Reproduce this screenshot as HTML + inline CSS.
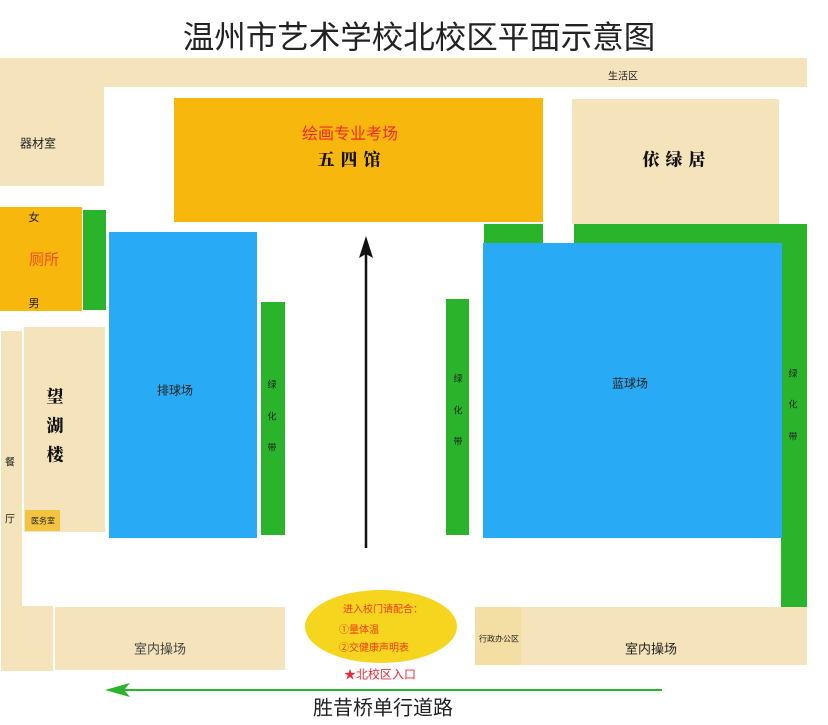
<!DOCTYPE html>
<html><head><meta charset="utf-8"><style>
body{margin:0;width:828px;height:725px;background:#fff;position:relative;overflow:hidden;font-family:"Liberation Sans","Noto Sans CJK SC",sans-serif}
div{position:absolute;box-sizing:border-box}
.b{background:#f5e4bb}.o{background:#f8b70c}.g{background:#2ab42b}.u{background:#28aaf4}
.t{position:absolute;white-space:nowrap;color:#222;transform:translate(-50%,-50%)}
.cal{font-family:"Noto Serif CJK SC",serif;font-weight:900;color:#111}
</style></head><body>
<div class="t" style="left:419px;top:35px;font-size:31.5px;color:#222">温州市艺术学校北校区平面示意图</div>
<div class="b" style="left:0;top:58px;width:807px;height:29px"></div>
<div class="b" style="left:0;top:58px;width:104px;height:128px"></div>
<div class="t" style="left:623px;top:75px;font-size:10px">生活区</div>
<div class="t" style="left:38px;top:143px;font-size:12px">器材室</div>
<div class="o" style="left:174px;top:98px;width:369px;height:124px"></div>
<div class="t" style="left:350px;top:132px;font-size:16px;color:#f02a2a">绘画专业考场</div>
<div class="t cal" style="left:352px;top:158px;font-size:17px;letter-spacing:6px">五四馆</div>
<div class="b" style="left:572px;top:99px;width:207px;height:125px"></div>
<div class="t cal" style="left:677px;top:158px;font-size:17px;letter-spacing:6px">依绿居</div>
<div class="o" style="left:0;top:207px;width:82px;height:104px"></div>
<div class="t" style="left:34px;top:217px;font-size:11px">女</div>
<div class="t" style="left:44px;top:259px;font-size:15px;color:#f24e1e">厕所</div>
<div class="t" style="left:34px;top:303px;font-size:11px">男</div>
<div class="g" style="left:83px;top:210px;width:23px;height:100px"></div>
<div class="u" style="left:109px;top:232px;width:148px;height:306px"></div>
<div class="t" style="left:175px;top:390px;font-size:12px">排球场</div>
<div class="g" style="left:261px;top:302px;width:24px;height:233px"></div>
<div class="t" style="left:272px;top:384px;font-size:9px">绿</div>
<div class="t" style="left:272px;top:416px;font-size:9px">化</div>
<div class="t" style="left:272px;top:447px;font-size:9px">带</div>
<div class="b" style="left:24px;top:327px;width:81px;height:205px"></div>
<div class="t cal" style="left:55px;top:424px;font-size:17px;line-height:29px;white-space:normal;width:18px;text-align:center">望湖楼</div>
<div class="o" style="left:25px;top:510px;width:35px;height:21px;background:#f4c441"></div>
<div class="t" style="left:43px;top:521px;font-size:8px">医务室</div>
<div class="b" style="left:1px;top:331px;width:21px;height:340px"></div>
<div class="b" style="left:1px;top:606px;width:52px;height:65px"></div>
<div class="t" style="left:10px;top:461px;font-size:10px">餐</div>
<div class="t" style="left:10px;top:518px;font-size:10px">厅</div>
<div class="b" style="left:55px;top:607px;width:230px;height:63px"></div>
<div class="t" style="left:160px;top:648px;font-size:13px;color:#444">室内操场</div>
<div class="g" style="left:446px;top:299px;width:23px;height:236px"></div>
<div class="t" style="left:458px;top:378px;font-size:9px">绿</div>
<div class="t" style="left:458px;top:410px;font-size:9px">化</div>
<div class="t" style="left:458px;top:441px;font-size:9px">带</div>
<div class="g" style="left:484px;top:224px;width:59px;height:20px"></div>
<div class="g" style="left:574px;top:224px;width:233px;height:20px"></div>
<div class="g" style="left:781px;top:224px;width:26px;height:383px"></div>
<div class="u" style="left:483px;top:243px;width:299px;height:295px"></div>
<div class="t" style="left:630px;top:383px;font-size:12px">蓝球场</div>
<div class="t" style="left:793px;top:373px;font-size:9px">绿</div>
<div class="t" style="left:793px;top:404px;font-size:9px">化</div>
<div class="t" style="left:793px;top:436px;font-size:9px">带</div>
<div class="b" style="left:475px;top:607px;width:332px;height:58px"></div>
<div style="left:475px;top:607px;width:46px;height:58px;background:#f3dea3"></div>
<div class="t" style="left:499px;top:639px;font-size:8px">行政办公区</div>
<div class="t" style="left:651px;top:648px;font-size:13px">室内操场</div>
<div style="left:305px;top:590px;width:152px;height:73px;border-radius:50%;background:#f5d51e"></div>
<div class="t" style="left:383px;top:608px;font-size:10px;color:#f03a1a">进入校门请配合：</div>
<div style="left:339px;top:621px;font-size:10px;color:#f03a1a">①量体温</div>
<div style="left:339px;top:639px;font-size:10px;color:#f03a1a">②交健康声明表</div>
<div class="t" style="left:380px;top:674px;font-size:12px;color:#f02a3a">★北校区入口</div>
<svg style="position:absolute;left:0;top:0" width="828" height="725">
<line x1="366" y1="548" x2="366" y2="252" stroke="#111" stroke-width="2.5"/>
<polygon points="366,236 359,258 366,254 373,258" fill="#111"/>
<line x1="118" y1="690" x2="662" y2="690" stroke="#2ab42b" stroke-width="2"/>
<polygon points="105,690 130,683 124,690 130,697" fill="#2ab42b"/>
</svg>
<div class="t" style="left:383px;top:706px;font-size:20px;color:#222">胜昔桥单行道路</div>
</body></html>
